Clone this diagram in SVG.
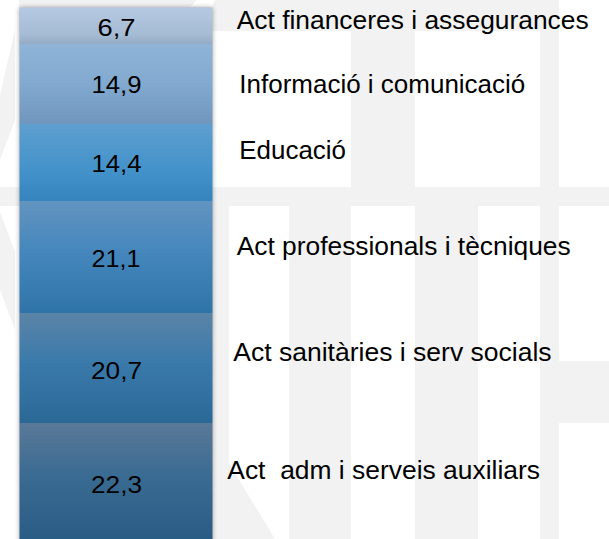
<svg xmlns="http://www.w3.org/2000/svg" width="609" height="539" viewBox="0 0 609 539">
  <defs>
    <style>
      .wm { fill: #f2f2f2; }
      .val { font-family: "Liberation Sans", Arial, sans-serif; font-size: 24px; fill: #000; text-anchor: middle; }
      .lbl { font-family: "Liberation Sans", Arial, sans-serif; font-size: 25px; fill: #000; white-space: pre; }
    </style>
    <filter id="shadow" x="-20%" y="-5%" width="140%" height="110%">
      <feGaussianBlur stdDeviation="2.5"/>
    </filter>
    <linearGradient id="g1" x1="0" y1="0" x2="0" y2="1">
      <stop offset="0" stop-color="#b5cae2"/>
      <stop offset="0.75" stop-color="#a5bad3"/>
      <stop offset="1" stop-color="#95aac3"/>
    </linearGradient>
    <linearGradient id="g2" x1="0" y1="0" x2="0" y2="1">
      <stop offset="0" stop-color="#8fb4d8"/>
      <stop offset="0.5" stop-color="#82a9cf"/>
      <stop offset="1" stop-color="#7096bd"/>
    </linearGradient>
    <linearGradient id="g3" x1="0" y1="0" x2="0" y2="1">
      <stop offset="0" stop-color="#5e9fcf"/>
      <stop offset="0.6" stop-color="#4392ca"/>
      <stop offset="1" stop-color="#3584bf"/>
    </linearGradient>
    <linearGradient id="g4" x1="0" y1="0" x2="0" y2="1">
      <stop offset="0" stop-color="#6394bf"/>
      <stop offset="0.45" stop-color="#4587bd"/>
      <stop offset="1" stop-color="#2f74a8"/>
    </linearGradient>
    <linearGradient id="g5" x1="0" y1="0" x2="0" y2="1">
      <stop offset="0" stop-color="#5b84a7"/>
      <stop offset="0.45" stop-color="#3a7aab"/>
      <stop offset="1" stop-color="#2a6896"/>
    </linearGradient>
    <linearGradient id="g6" x1="0" y1="0" x2="0" y2="1">
      <stop offset="0" stop-color="#5a7998"/>
      <stop offset="0.45" stop-color="#3a6b92"/>
      <stop offset="1" stop-color="#295c85"/>
    </linearGradient>
  </defs>

  <rect x="0" y="0" width="609" height="539" fill="#ffffff"/>

  <g id="watermark">
    <rect class="wm" x="19" y="0" width="540" height="31"/>
    <polygon points="197,0 215,0 212,7 190,7" fill="#ffffff"/>
    <rect class="wm" x="351" y="31" width="64" height="156"/>
    <rect class="wm" x="540" y="0" width="19" height="539"/>
    <rect class="wm" x="0" y="187" width="609" height="19"/>
    <rect class="wm" x="212" y="206" width="17" height="333"/>
    <rect class="wm" x="289" y="206" width="62" height="333"/>
    <rect class="wm" x="415" y="206" width="63" height="333"/>
    <rect class="wm" x="559" y="361" width="50" height="62"/>
    <polygon class="wm" points="212,435 275,539 212,539"/>
    <polygon class="wm" points="15,30 15,120 0,160 0,95"/>
    <polygon class="wm" points="0,212 15,252 15,330 0,290"/>
  </g>

  <g id="bar">
    <rect x="19.5" y="7.5" width="193" height="540" fill="#000" opacity="0.35" filter="url(#shadow)"/>
    <g id="seg-financeres">
      <rect x="19.5" y="7.5" width="193" height="36.5" fill="url(#g1)"/>
      <text class="val" x="116.5" y="36" textLength="38" lengthAdjust="spacingAndGlyphs">6,7</text>
    </g>
    <g id="seg-informacio">
      <rect x="19.5" y="44" width="193" height="80" fill="url(#g2)"/>
      <text class="val" x="116.5" y="93.3" textLength="50" lengthAdjust="spacingAndGlyphs">14,9</text>
    </g>
    <g id="seg-educacio">
      <rect x="19.5" y="124" width="193" height="77" fill="url(#g3)"/>
      <text class="val" x="116.5" y="171.7" textLength="50" lengthAdjust="spacingAndGlyphs">14,4</text>
    </g>
    <g id="seg-professionals">
      <rect x="19.5" y="201" width="193" height="112" fill="url(#g4)"/>
      <text class="val" x="116" y="267.3" textLength="49" lengthAdjust="spacingAndGlyphs">21,1</text>
    </g>
    <g id="seg-sanitaries">
      <rect x="19.5" y="313" width="193" height="110" fill="url(#g5)"/>
      <text class="val" x="116.5" y="379.3" textLength="51" lengthAdjust="spacingAndGlyphs">20,7</text>
    </g>
    <g id="seg-adm">
      <rect x="19.5" y="423" width="193" height="117" fill="url(#g6)"/>
      <text class="val" x="116.5" y="493.3" textLength="51" lengthAdjust="spacingAndGlyphs">22,3</text>
    </g>
  </g>

  <g id="labels">
    <text class="lbl" x="236.7" y="29.3" textLength="352" lengthAdjust="spacingAndGlyphs">Act financeres i assegurances</text>
    <text class="lbl" x="239.3" y="92.7" textLength="286" lengthAdjust="spacingAndGlyphs">Informació i comunicació</text>
    <text class="lbl" x="239.3" y="159.3" textLength="106.7" lengthAdjust="spacingAndGlyphs">Educació</text>
    <text class="lbl" x="236.7" y="255" textLength="334" lengthAdjust="spacingAndGlyphs">Act professionals i tècniques</text>
    <text class="lbl" x="233.3" y="360.7" textLength="318.3" lengthAdjust="spacingAndGlyphs">Act sanitàries i serv socials</text>
    <text class="lbl" x="227.3" y="479.3" textLength="312.7" lengthAdjust="spacingAndGlyphs">Act  adm i serveis auxiliars</text>
  </g>
</svg>
